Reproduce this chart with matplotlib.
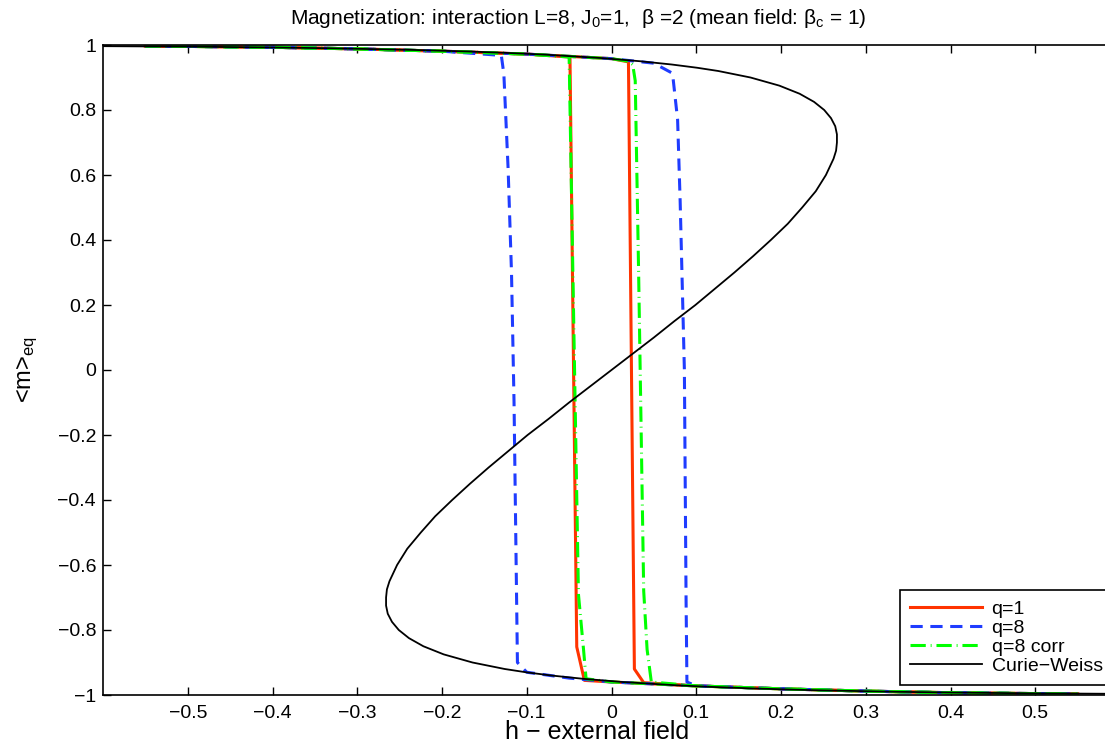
import matplotlib
matplotlib.use("Agg")
import matplotlib.pyplot as plt

plt.rcParams['font.family'] = ['Liberation Sans', 'DejaVu Sans']
plt.rcParams['mathtext.fontset'] = 'custom'
plt.rcParams['mathtext.rm'] = 'Liberation Sans'
plt.rcParams['mathtext.it'] = 'Liberation Sans:italic'
plt.rcParams['mathtext.sf'] = 'Liberation Sans'

# --- data: (h, <m>) pairs ---
# q=1, two sweeps
q1_a_h = [-0.55, -0.4, -0.3, -0.2, -0.1, -0.049, -0.041, -0.032, 0.0, 0.1, 0.2, 0.3, 0.4, 0.55]
q1_a_m = [0.997, 0.993, 0.988, 0.981, 0.972, 0.963, -0.852, -0.955, -0.96, -0.972, -0.981, -0.988, -0.993, -0.997]
q1_b_h = [-0.55, -0.4, -0.3, -0.2, -0.1, -0.05, 0.0, 0.02, 0.027, 0.038, 0.1, 0.2, 0.3, 0.4, 0.55]
q1_b_m = [0.997, 0.993, 0.988, 0.981, 0.972, 0.965, 0.958, 0.948, -0.92, -0.962, -0.972, -0.981, -0.988, -0.993, -0.997]

# q=8, two sweeps
q8_a_h = [-0.55, -0.4, -0.3, -0.2, -0.13, -0.127, -0.122, -0.118, -0.115, -0.113, -0.111, -0.1, -0.05, 0.0, 0.1, 0.2, 0.3, 0.4, 0.55]
q8_a_m = [0.997, 0.993, 0.988, 0.981, 0.968, 0.91, 0.62, 0.3, -0.1, -0.5, -0.9, -0.93, -0.948, -0.96, -0.972, -0.981, -0.988, -0.993, -0.997]
q8_b_h = [-0.55, -0.4, -0.3, -0.2, -0.1, 0.0, 0.05, 0.072, 0.078, 0.081, 0.086, 0.088, 0.089, 0.1, 0.2, 0.3, 0.4, 0.55]
q8_b_m = [0.997, 0.993, 0.988, 0.981, 0.972, 0.958, 0.944, 0.913, 0.77, 0.52, 0.0, -0.71, -0.96, -0.972, -0.981, -0.988, -0.993, -0.997]

# q=8 corr, two sweeps
q8c_a_h = [-0.55, -0.4, -0.3, -0.2, -0.1, -0.05, -0.039, -0.033, -0.03, 0.0, 0.1, 0.2, 0.3, 0.4, 0.55]
q8c_a_m = [0.997, 0.993, 0.988, 0.981, 0.972, 0.963, -0.69, -0.86, -0.95, -0.96, -0.972, -0.981, -0.988, -0.993, -0.997]
q8c_b_h = [-0.55, -0.4, -0.3, -0.2, -0.1, 0.0, 0.02, 0.025, 0.028, 0.032, 0.038, 0.042, 0.047, 0.1, 0.2, 0.3, 0.4, 0.55]
q8c_b_m = [0.997, 0.993, 0.988, 0.981, 0.972, 0.958, 0.95, 0.94, 0.89, 0.3, -0.68, -0.86, -0.96, -0.972, -0.981, -0.988, -0.993, -0.997]

# Curie-Weiss S-curve
cw_h = [-0.673, -0.502, -0.403, -0.333, -0.236, -0.169, -0.117, -0.076, -0.013, 0.034, 0.071, 0.101,
        0.126, 0.164, 0.198, 0.222, 0.239, 0.251, 0.259, 0.264, 0.266, 0.266, 0.265, 0.262, 0.253,
        0.241, 0.225, 0.208, 0.188, 0.167, 0.145, 0.122, 0.099, 0.074, 0.050, 0.025, 0.0,
        -0.025, -0.050, -0.074, -0.099, -0.122, -0.145, -0.167, -0.188, -0.208, -0.225, -0.241,
        -0.253, -0.262, -0.265, -0.266, -0.266, -0.264, -0.259, -0.251, -0.239, -0.222, -0.198,
        -0.164, -0.126, -0.101, -0.071, -0.034, 0.013, 0.076, 0.117, 0.169, 0.236, 0.333, 0.403,
        0.502, 0.673]
cw_m = [0.9975, 0.995, 0.9925, 0.99, 0.985, 0.98, 0.975, 0.97, 0.96, 0.95, 0.94, 0.93,
        0.92, 0.9, 0.875, 0.85, 0.825, 0.8, 0.775, 0.75, 0.725, 0.7, 0.675, 0.65, 0.6,
        0.55, 0.5, 0.45, 0.4, 0.35, 0.3, 0.25, 0.2, 0.15, 0.1, 0.05, 0.0,
        -0.05, -0.1, -0.15, -0.2, -0.25, -0.3, -0.35, -0.4, -0.45, -0.5, -0.55,
        -0.6, -0.65, -0.675, -0.7, -0.725, -0.75, -0.775, -0.8, -0.825, -0.85, -0.875,
        -0.9, -0.92, -0.93, -0.94, -0.95, -0.96, -0.97, -0.975, -0.98, -0.985, -0.99, -0.9925,
        -0.995, -0.9975]

xticks = [-0.5, -0.4, -0.3, -0.2, -0.1, 0, 0.1, 0.2, 0.3, 0.4, 0.5]
xticklabels = ['\u22120.5', '\u22120.4', '\u22120.3', '\u22120.2', '\u22120.1', '0', '0.1', '0.2', '0.3', '0.4', '0.5']
yticks = [-1, -0.8, -0.6, -0.4, -0.2, 0, 0.2, 0.4, 0.6, 0.8, 1]
yticklabels = ['\u22121', '\u22120.8', '\u22120.6', '\u22120.4', '\u22120.2', '0', '0.2', '0.4', '0.6', '0.8', '1']

red = '#ff3300'
blue = '#1f3cff'
green = '#00ff00'

fig = plt.figure(figsize=(11.05, 7.45), dpi=100)
ax = fig.add_axes([103 / 1105, 50 / 745, 1017 / 1105, 650 / 745])

lw = 2.2
ax.plot(q1_a_h, q1_a_m, color=red, lw=lw, label='q=1')
ax.plot(q1_b_h, q1_b_m, color=red, lw=lw)
ax.plot(q8_a_h, q8_a_m, color=blue, lw=lw, ls=(0, (4, 2.5)), label='q=8')
ax.plot(q8_b_h, q8_b_m, color=blue, lw=lw, ls=(0, (4, 2.5)))
ax.plot(q8c_a_h, q8c_a_m, color=green, lw=lw, ls=(0, (5, 1.6, 0.3, 1.6)), label='q=8 corr')
ax.plot(q8c_b_h, q8c_b_m, color=green, lw=lw, ls=(0, (5, 1.6, 0.3, 1.6)))
ax.plot(cw_h, cw_m, color='black', lw=1.3, label='Curie\u2212Weiss')

ax.set_xlim(-0.6, 0.6)
ax.set_ylim(-1, 1)
ax.set_xticks(xticks)
ax.set_xticklabels(xticklabels)
ax.set_yticks(yticks)
ax.set_yticklabels(yticklabels)
ax.tick_params(direction='in', length=6, width=1, top=True, right=True, labelsize=14)
ax.tick_params(axis='x', pad=7)
ax.tick_params(axis='y', pad=5)
for sp in ax.spines.values():
    sp.set_linewidth(1.2)

ax.set_title('Magnetization: interaction L=8, J$_\\mathrm{0}$=1,  \u03b2 =2 (mean field: \u03b2$_\\mathrm{c}$ = 1)',
             fontsize=15, x=0.467, pad=15)
ax.set_xlabel('h \u2212 external field', fontsize=18)
ax.xaxis.set_label_coords(0.486, -0.039)
ax.xaxis.label.set_va('top')
ax.set_ylabel('<m>$_\\mathrm{eq}$', fontsize=17)
ax.yaxis.set_label_coords(-0.062, 0.5)

leg = ax.legend(loc='lower right', bbox_to_anchor=(0.9925, 0.0154), borderaxespad=0,
                fontsize=14, handlelength=3.7, handletextpad=0.5, labelspacing=0.08,
                fancybox=False, framealpha=1, edgecolor='black', borderpad=0.5)
leg.get_frame().set_linewidth(1.2)

fig.savefig('out.png', dpi=100)
